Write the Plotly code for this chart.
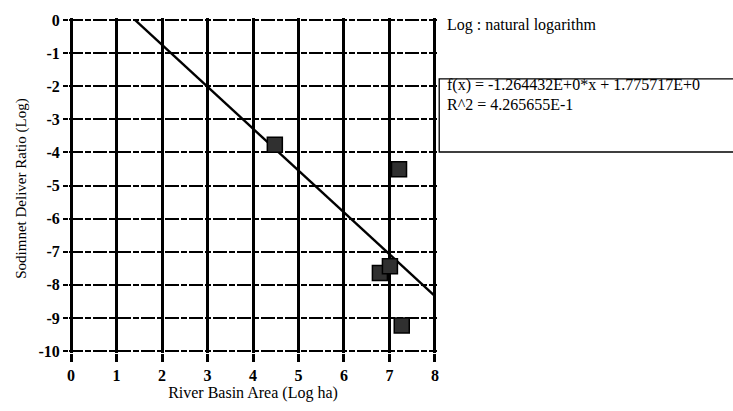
import plotly.graph_objects as go

# Observed points (natural log values)
basin_area = [4.48, 7.21, 6.79, 7.01, 7.27]
sdr = [-3.77, -4.51, -7.64, -7.44, -9.23]

# Trendline from the chart's equation
slope = -1.264432
intercept = 1.775717
trend_x = [-intercept / slope, 8.0]
trend_y = [slope * x + intercept for x in trend_x]

x_ticks = [0, 1, 2, 3, 4, 5, 6, 7, 8]
y_ticks = [0, -1, -2, -3, -4, -5, -6, -7, -8, -9, -10]

FONT = "Liberation Serif"

fig = go.Figure()
fig.add_trace(go.Scatter(
    x=trend_x, y=trend_y, mode="lines",
    line=dict(color="black", width=2.4), showlegend=False, hoverinfo="skip"))
fig.add_trace(go.Scatter(
    x=basin_area, y=sdr, mode="markers",
    marker=dict(symbol="square", size=15, color="#303030",
                line=dict(color="black", width=1.5)),
    showlegend=False))

fig.update_layout(
    width=733, height=411,
    margin=dict(l=69, r=296, t=13, b=58),
    paper_bgcolor="white", plot_bgcolor="white",
    font=dict(family=FONT, color="black", size=14),
    xaxis=dict(
        range=[-0.045, 8.045], tickvals=x_ticks, ticktext=[str(v) for v in x_ticks],
        showgrid=True, gridcolor="black", gridwidth=3.2,
        zeroline=False, showline=False,
        ticks="outside", ticklen=8, tickwidth=3.2, tickcolor="black",
        tickfont=dict(family=FONT, size=16, color="black", weight="bold"),
        title=dict(text="River Basin Area (Log ha)", font=dict(family=FONT, size=16), standoff=2),
    ),
    yaxis=dict(
        range=[-10.06, 0.06], tickvals=y_ticks, ticktext=[str(v) for v in y_ticks],
        showgrid=True, gridcolor="black", gridwidth=1.5, griddash="14px,2px,6px,2px",
        zeroline=False, showline=False,
        ticks="outside", ticklen=5, tickwidth=1.5, tickcolor="black",
        tickfont=dict(family=FONT, size=16, color="black", weight="bold"),
    ),
    shapes=[
        dict(type="rect", xref="paper", yref="paper", x0=1.006, x1=1.83, y0=0.60, y1=0.818,
             line=dict(color="black", width=1.3)),
    ],
    annotations=[
        dict(text="Sodimnet Deliver Ratio (Log)", xref="paper", yref="paper", x=-0.128, y=0.49,
             xanchor="center", yanchor="middle", textangle=-90, showarrow=False,
             font=dict(family=FONT, size=15)),
        dict(text="Log : natural logarithm", xref="paper", yref="paper", x=1.022, y=0.979,
             xanchor="left", yanchor="middle", showarrow=False, font=dict(family=FONT, size=16)),
        dict(text="f(x) = -1.264432E+0*x + 1.775717E+0", xref="paper", yref="paper", x=1.022, y=0.80,
             xanchor="left", yanchor="middle", showarrow=False, font=dict(family=FONT, size=16)),
        dict(text="R^2 = 4.265655E-1", xref="paper", yref="paper", x=1.022, y=0.741,
             xanchor="left", yanchor="middle", showarrow=False, font=dict(family=FONT, size=16)),
    ],
)

fig.write_html("out.html")
